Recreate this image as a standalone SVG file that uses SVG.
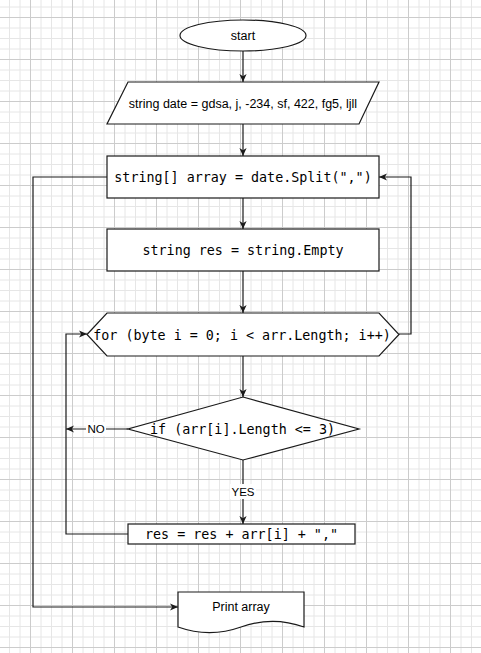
<svg xmlns="http://www.w3.org/2000/svg" width="481" height="653" viewBox="0 0 481 653">
<style>
.shape{fill:#ffffff;stroke:#1a1a1a;stroke-width:1.2}
.conn{fill:none;stroke:#1a1a1a;stroke-width:1.2}
.sans{font-family:"Liberation Sans",Arial,sans-serif;font-size:12.5px;fill:#000;text-anchor:middle}
.lbl{font-family:"Liberation Sans",Arial,sans-serif;font-size:11.5px;fill:#000;text-anchor:middle}
.mono{font-family:"DejaVu Sans Mono","Liberation Mono",monospace;font-size:13.37px;fill:#000;text-anchor:middle}
</style>
<defs>
<pattern id="grid" x="30" y="17" width="42" height="42" patternUnits="userSpaceOnUse">
<path d="M0.5,0 V42 M11,0 V42 M21.5,0 V42 M32,0 V42 M0,0.5 H42 M0,11 H42 M0,21.5 H42 M0,32 H42" stroke="#e6e6e6" stroke-width="1" fill="none"/>
<path d="M0.5,0 V42 M0,0.5 H42" stroke="#cccccc" stroke-width="1" fill="none"/>
</pattern>
<marker id="arr" viewBox="0 0 8 8" refX="8" refY="4" markerWidth="8" markerHeight="8" markerUnits="userSpaceOnUse" orient="auto">
<path d="M0,0.4 L8,4 L0,7.6 L2.2,4 Z" fill="#1a1a1a"/>
</marker>
</defs>
<rect x="0" y="0" width="481" height="653" fill="#ffffff"/>
<rect x="0" y="0" width="481" height="653" fill="url(#grid)"/>

<g id="connectors">
<path class="conn" d="M243,51 V82" marker-end="url(#arr)"/>
<path class="conn" d="M243,124 V156" marker-end="url(#arr)"/>
<path class="conn" d="M243,198 V229" marker-end="url(#arr)"/>
<path class="conn" d="M243,271 V313" marker-end="url(#arr)"/>
<path class="conn" d="M243,356 V397" marker-end="url(#arr)"/>
<path class="conn" d="M243,460 V524" marker-end="url(#arr)"/>
<path class="conn" d="M128,429 H66" marker-end="url(#arr)"/>
<path class="conn" d="M128,534 H66 V334 H87" marker-end="url(#arr)"/>
<path class="conn" d="M399,334 H411 V177 H379" marker-end="url(#arr)"/>
<path class="conn" d="M107,177 H33 V607 H178" marker-end="url(#arr)"/>
<rect x="230" y="484" width="26" height="15" fill="#ffffff"/>
<text class="lbl" x="243" y="496">YES</text>
<rect x="86" y="422" width="20" height="14" fill="#ffffff"/>
<text class="lbl" x="96" y="433">NO</text>
</g>

<g id="start">
<ellipse class="shape" cx="243" cy="35.5" rx="63" ry="15.5"/>
<text class="sans" x="243" y="40">start</text>
</g>

<g id="input">
<polygon class="shape" points="128,82 379,82 359,124 107,124"/>
<text class="sans" x="243" y="107.5">string date = gdsa, j, -234, sf, 422, fg5, ljll</text>
</g>

<g id="split">
<rect class="shape" x="107" y="156" width="272" height="42"/>
<text class="mono" x="243" y="182">string[] array = date.Split(",")</text>
</g>

<g id="res-init">
<rect class="shape" x="107" y="229" width="272" height="42"/>
<text class="mono" x="243" y="255">string res = string.Empty</text>
</g>

<g id="for-loop">
<polygon class="shape" points="87,334.5 107,313 379,313 399,334.5 379,356 107,356"/>
<text class="mono" x="242" y="339.5">for (byte i = 0; i &lt; arr.Length; i++)</text>
</g>

<g id="if">
<polygon class="shape" points="243,397 359,429 243,460 128,429"/>
<text class="mono" x="242.5" y="434">if (arr[i].Length &lt;= 3)</text>
</g>

<g id="res-add">
<rect class="shape" x="128" y="524" width="227" height="20"/>
<text class="mono" x="241.5" y="539">res = res + arr[i] + ","</text>
</g>

<g id="print">
<path class="shape" d="M178,592 H304 V627 Q272.5,615.8 241,627 Q209.5,638.2 178,627 Z"/>
<text class="sans" x="241" y="611">Print array</text>
</g>
</svg>
